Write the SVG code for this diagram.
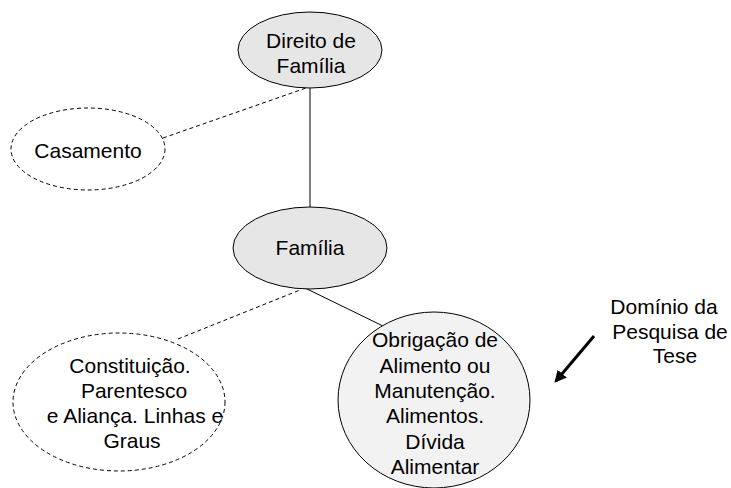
<svg xmlns="http://www.w3.org/2000/svg" width="731" height="488" viewBox="0 0 731 488">
<defs>
<style>
text{font-family:"Liberation Sans",Arial,sans-serif;font-size:21px;fill:#000;text-anchor:middle}
.solid{fill:#e6e6e6;stroke:#000;stroke-width:1}
.light{fill:#f2f2f2;stroke:#000;stroke-width:1}
.dash{fill:#fff;stroke:#000;stroke-width:1;stroke-dasharray:4 3}
.cl{stroke:#000;stroke-width:1;fill:none}
.cd{stroke:#000;stroke-width:1;fill:none;stroke-dasharray:4 3}
</style>
<marker id="ah" viewBox="0 0 10 10" refX="8" refY="5" markerWidth="4" markerHeight="4" orient="auto" markerUnits="strokeWidth">
<path d="M0,0 L10,5 L0,10 z" fill="#000"/>
</marker>
</defs>
<rect width="731" height="488" fill="#fff"/>
<g id="connectors">
<line class="cd" x1="163" y1="138" x2="306" y2="88"/>
<line class="cl" x1="310" y1="88" x2="310" y2="207"/>
<line class="cd" x1="178" y1="339" x2="300" y2="290"/>
<line class="cl" x1="305" y1="288" x2="383" y2="326"/>
<line x1="594" y1="336" x2="556" y2="381" stroke="#000" stroke-width="3" marker-end="url(#ah)"/>
</g>
<g id="direito">
<ellipse class="solid" cx="310" cy="50" rx="72" ry="38"/>
<text x="311" y="48">Direito de</text>
<text x="311" y="73">Família</text>
</g>
<g id="casamento">
<ellipse class="dash" cx="88" cy="149" rx="77" ry="41"/>
<text x="88" y="158">Casamento</text>
</g>
<g id="familia">
<ellipse class="solid" cx="310" cy="248" rx="77" ry="41"/>
<text x="310" y="255">Família</text>
</g>
<g id="constituicao">
<ellipse class="dash" cx="119" cy="402" rx="106" ry="69"/>
<text x="130" y="373">Constituição.</text>
<text x="134" y="398">Parentesco</text>
<text x="135" y="423">e Aliança. Linhas e</text>
<text x="132" y="448">Graus</text>
</g>
<g id="obrigacao">
<ellipse class="light" cx="434" cy="400" rx="96" ry="88"/>
<text x="435" y="347">Obrigação de</text>
<text x="435" y="373">Alimento ou</text>
<text x="435" y="398">Manutenção.</text>
<text x="435" y="423">Alimentos.</text>
<text x="435" y="449">Dívida</text>
<text x="435" y="474">Alimentar</text>
</g>
<g id="dominio">
<text x="664" y="314">Domínio da</text>
<text x="670" y="339">Pesquisa de</text>
<text x="675" y="363">Tese</text>
</g>
</svg>
